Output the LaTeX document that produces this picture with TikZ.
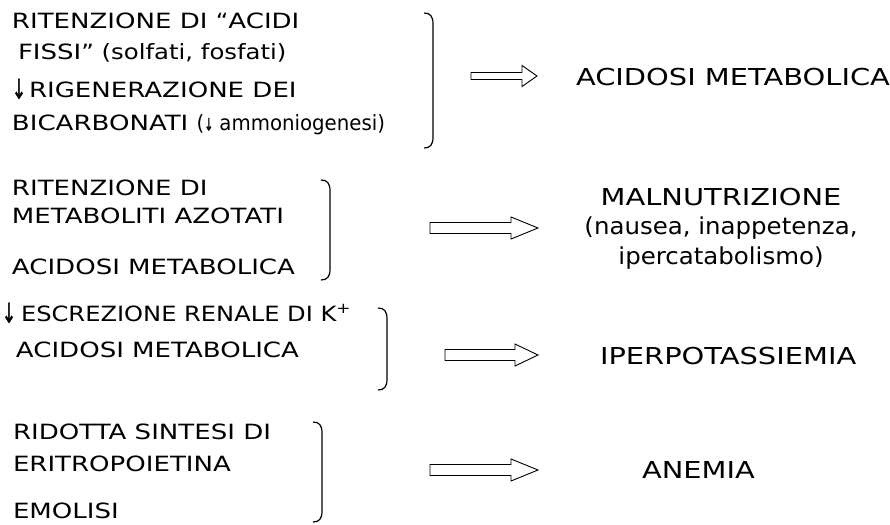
\documentclass[tikz,border=0pt]{standalone}
\usepackage{fontspec}
\usepackage{graphicx}
\usetikzlibrary{calc}
% capitals are set wide, lower case a little narrower
\setmainfont{DejaVu Sans}[FakeStretch=1.24]
\newfontfamily\capsnarrow{DejaVu Sans}[FakeStretch=1.15]
\newfontfamily\lcfont{DejaVu Sans}[FakeStretch=1.16]
\newfontfamily\lcout{DejaVu Sans}[FakeStretch=1.05]
\newfontfamily\lcnarrow{DejaVu Sans}[FakeStretch=0.94]
\newfontfamily\arrowfont{DejaVu Sans}[FakeStretch=0.62,FakeBold=1.6]
\newcommand\lc[1]{{\lcfont #1}}
\newcommand\down{{\arrowfont\fontsize{27}{30}\selectfont\raisebox{-1pt}{↓}}}
\newcommand\smalldown{{\arrowfont\fontsize{17}{18}\selectfont ↓}}

% closing bracket: vertical stroke at x=#1 from #2 to #3, curled ends to the left
\newcommand\closebracket[3]{%
  \draw[brace] (#1-9,#2) .. controls (#1-3,#2) and (#1,#2+3) .. (#1,#2+11)
    -- (#1,#3-11) .. controls (#1,#3-3) and (#1-3,#3) .. (#1-9,#3);}

% outlined block arrow between two coordinates: shaft half-height, head half-height, head length
\newcommand\fatarrow[5]{%
  \draw[blockarrow] ($(#1)+(0,#3)$) -- ($(#2)+(-#5,#3)$) -- ($(#2)+(-#5,#4)$) -- (#2)
    -- ($(#2)+(-#5,-#4)$) -- ($(#2)+(-#5,-#3)$) -- ($(#1)+(0,-#3)$) -- cycle;}

\begin{document}
\begin{tikzpicture}[x=1pt,y=-1pt,
  every node/.style={inner sep=0pt, outer sep=0pt},
  cause/.style={anchor=base west, font=\fontsize{21}{25}\selectfont},
  effect/.style={anchor=base west, font=\fontsize{23.3}{28}\selectfont},
  centred/.style={anchor=base, font=\fontsize{23.3}{28}\selectfont},
  brace/.style={line width=1.2pt},
  blockarrow/.style={line width=0.9pt, fill=white, line join=miter}]
\useasboundingbox (0,0) rectangle (890,524);

% group 1
\node[cause] (c11) at (12,28.5)  {RITENZIONE DI \lc{“}ACIDI};
\node[cause] (c12) at (18,59.5)  {FISSI\lc{” (solfati, fosfati)}};
\node[cause] (c13) at (12,97.5)  {\down\kern3pt RIGENERAZIONE DEI};
\node[cause] (c14) at (12,130.5) {BICARBONATI {\lcnarrow (\smalldown\ ammoniogenesi)}};
\closebracket{433}{13}{148}
\coordinate (a1s) at (471,76);
\coordinate (a1e) at (537,76);
\fatarrow{a1s}{a1e}{3.5}{10.5}{15}
\node[effect] (e1) at (576,85.5) {ACIDOSI METABOLICA};

% group 2
\node[cause] (c21) at (12,195.5) {RITENZIONE DI};
\node[cause] (c22) at (12,223.5) {METABOLITI AZOTATI};
\node[cause] (c23) at (12,274.5) {ACIDOSI METABOLICA};
\closebracket{330}{180}{280}
\coordinate (a2s) at (430,228);
\coordinate (a2e) at (538,228);
\fatarrow{a2s}{a2e}{5.5}{11}{27}
\node[centred] (e2a) at (721,205.5) {MALNUTRIZIONE};
\node[centred] (e2b) at (721,234.5) {\lcout (nausea, inappetenza,};
\node[centred] (e2c) at (721,264.5) {\lcout ipercatabolismo)};

% group 3
\node[cause] (c31) at (2,321.5) {\down\kern5pt{\capsnarrow ESCREZIONE RENALE DI K\textsuperscript{+}}};
\node[cause] (c32) at (16,357.5) {ACIDOSI METABOLICA};
\closebracket{387}{308}{390}
\coordinate (a3s) at (445,355);
\coordinate (a3e) at (538,355);
\fatarrow{a3s}{a3e}{5.5}{11}{23}
\node[effect] (e3) at (600,364.5) {IPERPOTASSIEMIA};

% group 4
\node[cause] (c41) at (13,439.5) {RIDOTTA SINTESI DI};
\node[cause] (c42) at (13,471.5) {ERITROPOIETINA};
\node[cause] (c43) at (13,518.5) {EMOLISI};
\closebracket{322}{422}{522}
\coordinate (a4s) at (430,470);
\coordinate (a4e) at (538,470);
\fatarrow{a4s}{a4e}{5.5}{11}{27}
\node[effect] (e4) at (642,478.5) {ANEMIA};
\end{tikzpicture}
\end{document}
